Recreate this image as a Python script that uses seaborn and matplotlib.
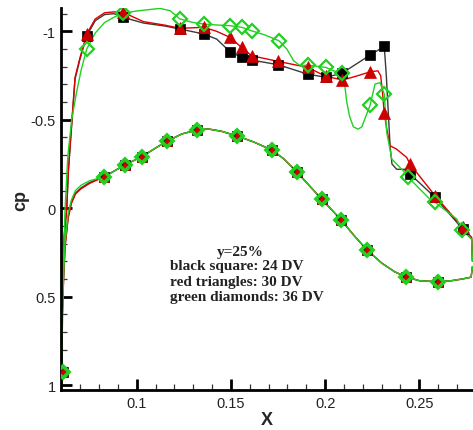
import matplotlib
matplotlib.use("Agg")
import matplotlib.pyplot as plt
import seaborn as sns
from matplotlib.ticker import MultipleLocator

# ---------------- data ----------------
# upper surface pressure distributions
up_x_black = [0.0603, 0.0605, 0.0612, 0.0629, 0.0637, 0.0655, 0.0673, 0.0699, 0.0735, 0.078, 0.083, 0.088,
              0.0929, 0.1036, 0.115, 0.123, 0.1357, 0.1425, 0.1495, 0.1557, 0.161, 0.1752, 0.1908, 0.2005,
              0.2091, 0.2239, 0.2314, 0.2325, 0.2335, 0.2345, 0.2355, 0.238, 0.2425, 0.2451, 0.2584, 0.273,
              0.2778, 0.2782]
up_cp_black = [1.0, 0.5, 0.2, 0.0, -0.2, -0.466, -0.73, -0.843, -0.975, -1.06, -1.095, -1.1,
               -1.079, -1.047, -1.03, -1.013, -0.985, -0.956, -0.885, -0.853, -0.838, -0.811, -0.758, -0.74,
               -0.764, -0.866, -0.915, -0.75, -0.55, -0.35, -0.25, -0.22, -0.22, -0.193, -0.061, 0.118,
               0.175, 0.30]

up_x_red = [0.0603, 0.0605, 0.0612, 0.0629, 0.0637, 0.0655, 0.0673, 0.0699, 0.0735, 0.078, 0.083, 0.088,
            0.0929, 0.1036, 0.115, 0.123, 0.1357, 0.1425, 0.1495, 0.1557, 0.161, 0.1752, 0.1908, 0.2005,
            0.2094, 0.216, 0.2239, 0.228, 0.2295, 0.2305, 0.2314, 0.2327, 0.2345, 0.2378, 0.2433, 0.2451,
            0.2584, 0.273, 0.2778, 0.2782]
up_cp_red = [1.0, 0.5, 0.2, 0.0, -0.21, -0.48, -0.74, -0.85, -0.985, -1.07, -1.105, -1.11,
             -1.107, -1.055, -1.035, -1.017, -1.023, -1.0, -0.966, -0.909, -0.862, -0.83, -0.796, -0.745,
             -0.725, -0.745, -0.771, -0.777, -0.75, -0.65, -0.538, -0.45, -0.353, -0.335, -0.287, -0.249,
             -0.07, 0.109, 0.165, 0.30]

up_x_green = [0.0603, 0.0606, 0.062, 0.0635, 0.0655, 0.068, 0.0705, 0.0735, 0.078, 0.083, 0.088, 0.0929,
              0.1, 0.1124, 0.1177, 0.123, 0.130, 0.1357, 0.1425, 0.1495, 0.1557, 0.161, 0.168, 0.1755,
              0.1797, 0.1833, 0.1867, 0.1908, 0.2005, 0.2044, 0.2091, 0.2105, 0.2115, 0.213, 0.215, 0.2175,
              0.2195, 0.222, 0.2239, 0.2265, 0.2292, 0.2314, 0.2327, 0.2354, 0.2415, 0.2442, 0.2556, 0.2584,
              0.2699, 0.2725, 0.2778, 0.2782]
up_cp_green = [1.0, 0.5, 0.0, -0.3, -0.5, -0.65, -0.78, -0.9, -0.99, -1.05, -1.08, -1.103,
               -1.115, -1.13, -1.117, -1.07, -1.05, -1.041, -1.036, -1.032, -1.023, -1.003, -0.98, -0.947,
               -0.9, -0.834, -0.806, -0.809, -0.796, -0.777, -0.764, -0.69, -0.6, -0.52, -0.46, -0.447,
               -0.46, -0.53, -0.583, -0.702, -0.71, -0.645, -0.43, -0.278, -0.211, -0.174, -0.051, -0.033,
               0.062, 0.122, 0.175, 0.30]

# lower surface pressure distributions
lo_x = [0.0603, 0.0606, 0.0612, 0.062, 0.0636, 0.0653, 0.0675, 0.0705, 0.075, 0.0828, 0.0938, 0.1027,
        0.11, 0.116, 0.124, 0.1322, 0.138, 0.145, 0.1531, 0.162, 0.1717, 0.178, 0.1849, 0.1982,
        0.2085, 0.215, 0.2221, 0.23, 0.237, 0.2429, 0.25, 0.26, 0.267, 0.273, 0.2775, 0.2782]
lo_cp_black = [1.0, 0.6, 0.4, 0.21, 0.05, -0.033, -0.085, -0.115, -0.145, -0.178, -0.245, -0.291,
               -0.34, -0.378, -0.42, -0.443, -0.448, -0.435, -0.409, -0.375, -0.329, -0.28, -0.206, -0.051,
               0.066, 0.15, 0.235, 0.31, 0.36, 0.388, 0.41, 0.416, 0.41, 0.40, 0.39, 0.33]
lo_cp_red = [1.0, 0.6, 0.4, 0.22, 0.06, -0.025, -0.08, -0.11, -0.14, -0.178, -0.245, -0.291,
             -0.34, -0.378, -0.42, -0.443, -0.448, -0.435, -0.409, -0.375, -0.329, -0.28, -0.206, -0.051,
             0.066, 0.15, 0.235, 0.31, 0.36, 0.388, 0.41, 0.416, 0.41, 0.40, 0.39, 0.33]
lo_cp_green = [1.0, 0.6, 0.38, 0.19, 0.03, -0.045, -0.1, -0.13, -0.155, -0.178, -0.245, -0.291,
               -0.34, -0.378, -0.42, -0.443, -0.448, -0.435, -0.409, -0.375, -0.329, -0.28, -0.206, -0.051,
               0.066, 0.15, 0.235, 0.31, 0.36, 0.388, 0.41, 0.416, 0.41, 0.40, 0.39, 0.33]

# symbol stations on the upper surface
mk_up_x = [0.0735, 0.0929, 0.123, 0.1357, 0.1495, 0.1557, 0.161, 0.1752, 0.1908, 0.2005, 0.2091,
           0.2239, 0.2314, 0.2451, 0.2584, 0.273]
mk_up_black = [-0.975, -1.079, -1.013, -0.985, -0.885, -0.853, -0.838, -0.811, -0.758, -0.74, -0.764,
               -0.866, -0.915, -0.193, -0.061, 0.118]
mk_up_red = [-0.985, -1.107, -1.017, -1.023, -0.966, -0.909, -0.862, -0.83, -0.796, -0.745, -0.725,
             -0.771, -0.538, -0.249, -0.07, 0.109]
mk_up_x_green = [0.0735, 0.0929, 0.123, 0.1357, 0.1495, 0.1557, 0.161, 0.1755, 0.1908, 0.2005, 0.2091,
                 0.2239, 0.2314, 0.2442, 0.2584, 0.2725]
mk_up_green = [-0.9, -1.103, -1.07, -1.041, -1.032, -1.023, -1.003, -0.947, -0.809, -0.796, -0.764,
               -0.583, -0.645, -0.174, -0.033, 0.122]

# symbol stations on the lower surface (same for all three designs)
mk_lo_x = [0.0607, 0.0828, 0.0938, 0.1027, 0.116, 0.1322, 0.1531, 0.1717, 0.1849, 0.1982, 0.2085,
           0.2221, 0.2429, 0.26]
mk_lo_cp = [0.925, -0.178, -0.245, -0.291, -0.378, -0.443, -0.409, -0.329, -0.206, -0.051, 0.066,
            0.235, 0.388, 0.416]

x_ticks = [0.1, 0.15, 0.2, 0.25]
x_tick_labels = ["0.1", "0.15", "0.2", "0.25"]
y_ticks = [-1, -0.5, 0, 0.5, 1]
y_tick_labels = ["-1", "-0.5", "0", "0.5", "1"]

note_title = "y=25%"
note_lines = ["black square: 24 DV", "red triangles: 30 DV", "green diamonds: 36 DV"]

# ---------------- styling ----------------
sns.set_theme(style="ticks")
plt.rcParams["font.family"] = ["Liberation Sans", "DejaVu Sans"]

C_BLACK = "#3a3a3a"
C_RED = "#dd0000"
C_GREEN = "#22d022"

fig = plt.figure(figsize=(4.73, 4.31), dpi=100)
ax = fig.add_axes([0.1296, 0.0928, 0.8704, 0.8863])

# curves
for xs, ys, c in [(up_x_black, up_cp_black, C_BLACK), (lo_x, lo_cp_black, C_BLACK),
                  (up_x_red, up_cp_red, C_RED), (lo_x, lo_cp_red, C_RED),
                  (up_x_green, up_cp_green, C_GREEN), (lo_x, lo_cp_green, C_GREEN)]:
    sns.lineplot(x=xs, y=ys, ax=ax, sort=False, estimator=None, color=c, linewidth=1.0)

# symbols: black squares, red triangles, hollow green diamonds
sym_sets = [
    (mk_up_x, mk_up_black, "s", 7.0, "black", "black", 0.5, 4),
    (mk_lo_x, mk_lo_cp, "s", 6.5, "black", "black", 0.5, 4),
    (mk_up_x, mk_up_red, "^", 8.0, "#cc0000", "#cc0000", 0.5, 5),
    (mk_lo_x, mk_lo_cp, "^", 7.0, "#cc0000", "#cc0000", 0.5, 5),
    (mk_up_x_green, mk_up_green, "D", 7.0, "none", C_GREEN, 1.6, 6),
    (mk_lo_x, mk_lo_cp, "D", 6.6, "none", C_GREEN, 2.6, 6),
]
for xs, ys, m, ms, fc, ec, mew, z in sym_sets:
    sns.lineplot(x=xs, y=ys, ax=ax, sort=False, estimator=None, linestyle="", marker=m,
                 markersize=ms, markerfacecolor=fc, markeredgecolor=ec, markeredgewidth=mew,
                 zorder=z, clip_on=True)

ax.set_xlim(0.06, 0.2785)
ax.set_ylim(1.028, -1.132)

ax.set_xticks(x_ticks)
ax.set_xticklabels(x_tick_labels)
ax.set_yticks(y_ticks)
ax.set_yticklabels(y_tick_labels)
ax.xaxis.set_minor_locator(MultipleLocator(0.01))
ax.yaxis.set_minor_locator(MultipleLocator(0.1))
ax.tick_params(which="major", direction="in", length=8, width=2, labelsize=10.5,
               colors="black", labelcolor="#222222", pad=4)
ax.tick_params(which="minor", direction="in", length=4, width=0.9, colors="#333333")

for side in ["top", "right"]:
    ax.spines[side].set_visible(False)
for side in ["left", "bottom"]:
    ax.spines[side].set_linewidth(2)
    ax.spines[side].set_color("black")

ax.set_xlabel("X", fontsize=13, fontweight="bold", labelpad=1)
ax.set_ylabel("cp", fontsize=13, fontweight="bold", labelpad=1)
ax.grid(False)

serif = ["Liberation Serif", "DejaVu Serif"]
ax.text(0.1549, 0.243, note_title, ha="center", va="center", fontsize=11,
        fontweight="bold", family=serif, color="#222222")
for i, line in enumerate(note_lines):
    ax.text(0.1178, 0.322 + i * 0.09, line, ha="left", va="center", fontsize=11,
            fontweight="bold", family=serif, color="#222222")

fig.savefig("out.png", dpi=100)
